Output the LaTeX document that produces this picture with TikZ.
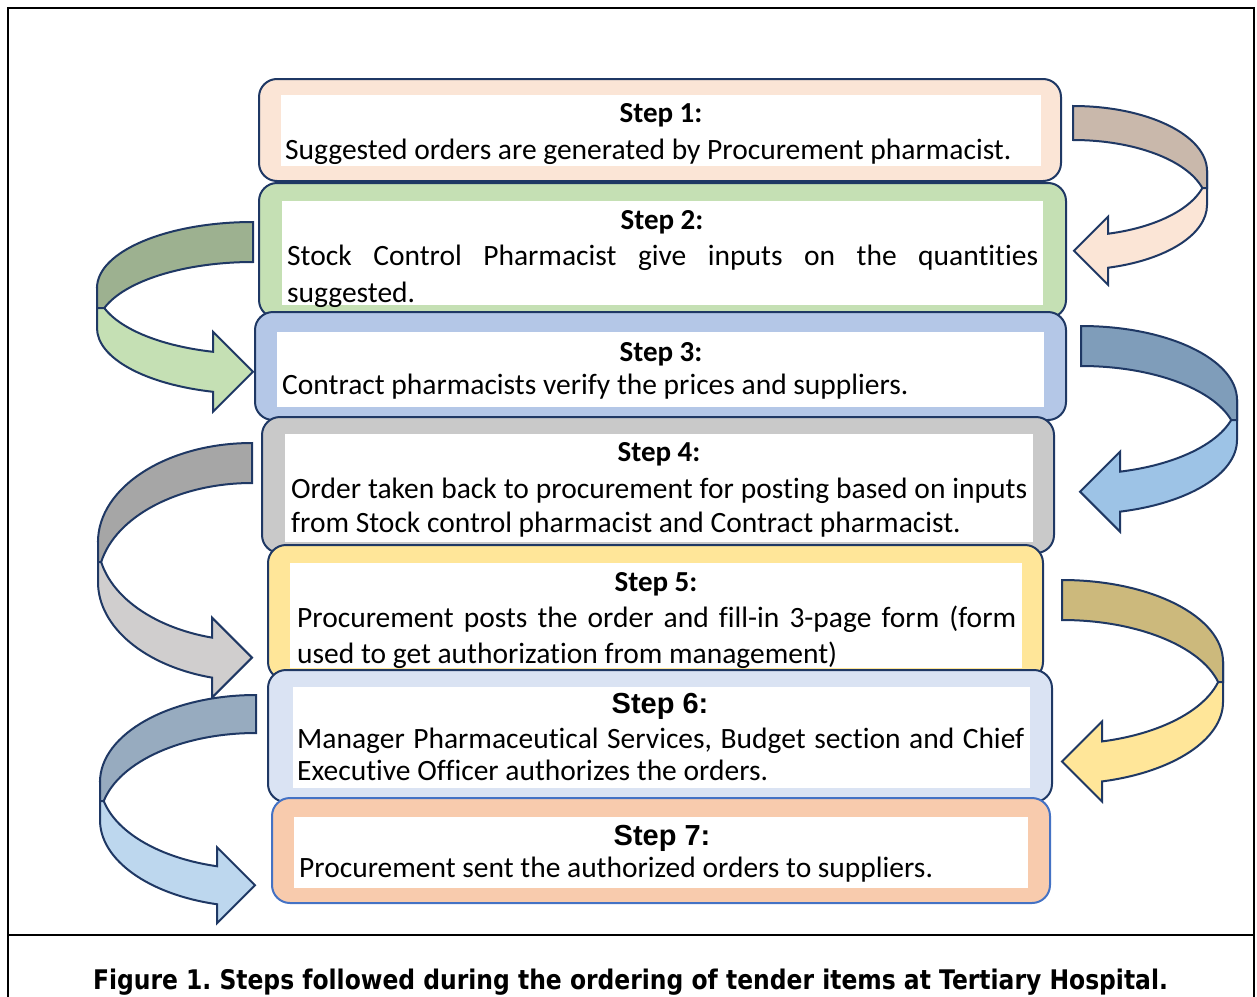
\documentclass[tikz,border=0pt]{standalone}
\usepackage{fontspec}
\usepackage{graphicx}
\setmainfont{Carlito}[Ligatures=NoCommon]
\newfontfamily\headsans{Liberation Sans}
\newfontfamily\capfont{DejaVu Sans}
\frenchspacing

% outline and fill colours
\definecolor{navy}{HTML}{1F3864}
\definecolor{lastedge}{HTML}{4472C4}
\definecolor{fillA}{HTML}{FBE5D6}
\definecolor{fillB}{HTML}{C5E0B4}
\definecolor{fillC}{HTML}{B4C7E7}
\definecolor{fillD}{HTML}{C9C9C9}
\definecolor{fillE}{HTML}{FFE699}
\definecolor{fillF}{HTML}{DAE3F3}
\definecolor{fillG}{HTML}{F8CBAD}
\definecolor{loopAback}{HTML}{C9B8AB}
\definecolor{loopAfront}{HTML}{FBE5D6}
\definecolor{loopBback}{HTML}{9DB190}
\definecolor{loopBfront}{HTML}{C5E0B4}
\definecolor{loopCback}{HTML}{7F9DBA}
\definecolor{loopCfront}{HTML}{9DC3E6}
\definecolor{loopDback}{HTML}{A6A6A6}
\definecolor{loopDfront}{HTML}{D0CECE}
\definecolor{loopEback}{HTML}{CCB97C}
\definecolor{loopEfront}{HTML}{FFE699}
\definecolor{loopFback}{HTML}{97ABBF}
\definecolor{loopFfront}{HTML}{BDD7EE}

\tikzset{
  outline/.style={draw=navy, line width=2pt},
  stepbox/.style={outline, rounded corners=18pt, inner sep=0pt, outer sep=0pt, anchor=north west},
  whitepanel/.style={fill=white, inner sep=0pt, outer sep=0pt, anchor=north west},
  headtxt/.style={font=\fontsize{29}{36}\selectfont\bfseries, anchor=base, inner sep=0pt},
  headtxtb/.style={font=\fontsize{29}{36}\selectfont\headsans\bfseries, anchor=base, inner sep=0pt},
  bodytxt/.style={font=\fontsize{29.5}{36}\selectfont, anchor=base west, inner sep=0pt},
  loopline/.style={draw=navy, line width=2pt, line join=miter},
  frameline/.style={draw=black, line width=2.2pt},
}

% Curved block arrow turning on the right side.
% #1 start x, #2 ellipse centre y, #3 x radius, #4 y radius,
% #5 band thickness, #6 shaft end x, #7 back colour, #8 front colour
\newcommand\rightloop[8]{%
  \pgfmathsetmacro\arwAl{acos((#6-#1)/#3)}%
  \pgfmathsetmacro\arwTh{asin(#5/(2*#4))}%
  \pgfmathsetmacro\arwS{#4*sin(\arwAl)}%
  \pgfmathsetmacro\arwCx{#1+#3*cos(\arwTh)}%
  \path[loopline, fill=#8] ({#1+#3},{#2}) -- ({#1+#3},{#2+#5})
    arc[start angle=0, end angle=\arwAl, x radius=#3, y radius=#4]
    -- ({#6},{#2+#5+\arwS+#5/2}) -- ({#6-#5},{#2+#5/2+\arwS})
    -- ({#6},{#2+\arwS-#5/2}) -- ({#6},{#2+\arwS})
    arc[start angle=\arwAl, end angle=0, x radius=#3, y radius=#4] -- cycle;
  \path[loopline, fill=#7] ({#1},{#2-#4})
    arc[start angle=-90, end angle=0, x radius=#3, y radius=#4]
    -- ({#1+#3},{#2+#5/2}) -- ({\arwCx},{#2+#5/2})
    arc[start angle=-\arwTh, end angle=-90, x radius=#3, y radius=#4] -- cycle;
}

% Curved block arrow turning on the left side (same arguments).
\newcommand\leftloop[8]{%
  \pgfmathsetmacro\arwAl{acos((#1-#6)/#3)}%
  \pgfmathsetmacro\arwTh{asin(#5/(2*#4))}%
  \pgfmathsetmacro\arwS{#4*sin(\arwAl)}%
  \pgfmathsetmacro\arwCx{#1-#3*cos(\arwTh)}%
  \path[loopline, fill=#8] ({#1-#3},{#2}) -- ({#1-#3},{#2+#5})
    arc[start angle=180, end angle={180-\arwAl}, x radius=#3, y radius=#4]
    -- ({#6},{#2+#5+\arwS+#5/2}) -- ({#6+#5},{#2+#5/2+\arwS})
    -- ({#6},{#2+\arwS-#5/2}) -- ({#6},{#2+\arwS})
    arc[start angle={180-\arwAl}, end angle=180, x radius=#3, y radius=#4] -- cycle;
  \path[loopline, fill=#7] ({#1},{#2-#4})
    arc[start angle=-90, end angle=-180, x radius=#3, y radius=#4]
    -- ({#1-#3},{#2+#5/2}) -- ({\arwCx},{#2+#5/2})
    arc[start angle={-180+\arwTh}, end angle=-90, x radius=#3, y radius=#4] -- cycle;
}

\begin{document}
\begin{tikzpicture}[x=1pt, y=-1pt]
\useasboundingbox (0,0) rectangle (1257,996);

% frame and caption rule
\draw[frameline] (8,997) -- (8,8) -- (1254,8) -- (1254,997);
\draw[frameline] (8,935) -- (1254,935);

% step 1
\node[stepbox, fill=fillA, minimum width=802pt, minimum height=102pt] (b1) at (259,79) {};
\node[whitepanel, minimum width=760pt, minimum height=71pt] (w1) at (281,95) {};
\node[headtxt] (h1) at (661,122) {Step 1:};
\node[bodytxt] (t1) at (285,159) {Suggested orders are generated by Procurement pharmacist.};

% step 2
\node[stepbox, fill=fillB, minimum width=807pt, minimum height=135pt] (b2) at (259,183) {};
\node[whitepanel, minimum width=761pt, minimum height=104pt] (w2) at (282,201) {};
\node[headtxt] (h2) at (662,229) {Step 2:};
\node[bodytxt] (t2a) at (287,265) {\makebox[751pt][s]{Stock Control Pharmacist give inputs on the quantities}};
\node[bodytxt] (t2b) at (287,302) {suggested.};

% step 3
\node[stepbox, fill=fillC, minimum width=811pt, minimum height=108pt] (b3) at (255,312) {};
\node[whitepanel, minimum width=767pt, minimum height=75pt] (w3) at (277,332) {};
\node[headtxt] (h3) at (661,361) {Step 3:};
\node[bodytxt] (t3) at (282,394) {Contract pharmacists verify the prices and suppliers.};

% step 4
\node[stepbox, fill=fillD, minimum width=792pt, minimum height=136pt] (b4) at (262,417) {};
\node[whitepanel, minimum width=748pt, minimum height=108pt] (w4) at (285,434) {};
\node[headtxt] (h4) at (659,461) {Step 4:};
\node[bodytxt] (t4a) at (291,498) {\makebox[736pt][s]{Order taken back to procurement for posting based on inputs}};
\node[bodytxt] (t4b) at (291,532) {from Stock control pharmacist and Contract pharmacist.};

% step 5
\node[stepbox, fill=fillE, minimum width=775pt, minimum height=135pt] (b5) at (268,545) {};
\node[whitepanel, minimum width=732pt, minimum height=105pt] (w5) at (290,563) {};
\node[headtxt] (h5) at (656,591) {Step 5:};
\node[bodytxt] (t5a) at (297,627) {\makebox[719pt][s]{Procurement posts the order and fill-in 3-page form (form}};
\node[bodytxt] (t5b) at (297,663) {used to get authorization from management)};

% step 6
\node[stepbox, fill=fillF, minimum width=784pt, minimum height=132pt] (b6) at (268,670) {};
\node[whitepanel, minimum width=737pt, minimum height=101pt] (w6) at (293,687) {};
\node[headtxtb] (h6) at (660,713) {Step 6:};
\node[bodytxt] (t6a) at (297,748) {\makebox[727pt][s]{Manager Pharmaceutical Services, Budget section and Chief}};
\node[bodytxt] (t6b) at (297,780) {Executive Officer authorizes the orders.};

% step 7
\node[stepbox, draw=lastedge, fill=fillG, minimum width=778pt, minimum height=105pt] (b7) at (272,798) {};
\node[whitepanel, minimum width=734pt, minimum height=71pt] (w7) at (294,817) {};
\node[headtxtb] (h7) at (662,845) {Step 7:};
\node[bodytxt] (t7) at (299,877) {Procurement sent the authorized orders to suppliers.};

% curved arrows between consecutive steps
\rightloop{1073}{171}{134}{65}{34}{1108}{loopAback}{loopAfront}
\leftloop{253}{288}{156}{66}{40}{213}{loopBback}{loopBfront}
\rightloop{1081}{400}{156}{74}{40}{1120}{loopCback}{loopCfront}
\leftloop{252}{542}{154}{99}{40}{212}{loopDback}{loopDfront}
\rightloop{1062}{662}{161}{82}{40}{1102}{loopEback}{loopEfront}
\leftloop{256}{782}{156}{87}{38}{217}{loopFback}{loopFfront}

% caption
\node[anchor=base, inner sep=0pt] (caption) at (630.5,989)
  {\resizebox{1075pt}{\height}{\capfont\bfseries\fontsize{27}{30}\selectfont Figure 1. Steps followed during the ordering of tender items at Tertiary Hospital.}};
\end{tikzpicture}
\end{document}
